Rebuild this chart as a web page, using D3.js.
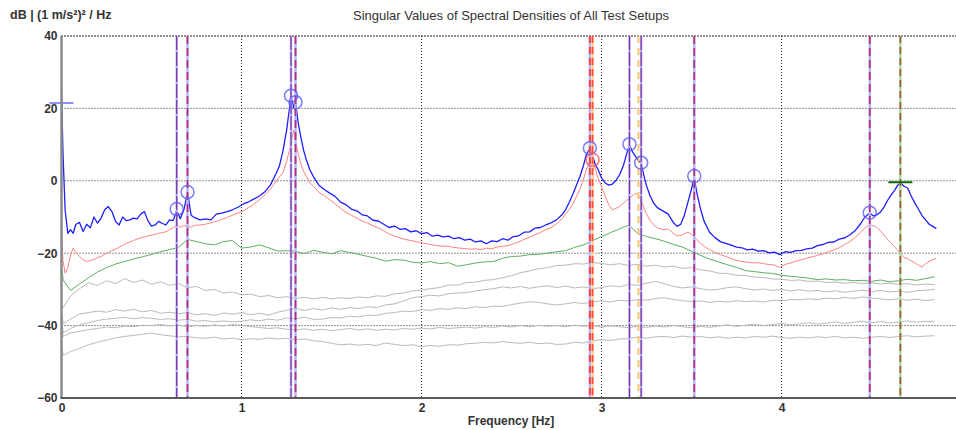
<!DOCTYPE html>
<html>
<head>
<meta charset="utf-8">
<script src="https://cdn.jsdelivr.net/npm/d3@7"></script>
<style>
  body { margin: 0; background: #fff; }
  text { font-family: "Liberation Sans", Arial, sans-serif; }
</style>
</head>
<body>
<div id="chart"></div>
<script>
// frequency grid of the two top singular values (denser near the peaks)
const freqFine = [
  0, 0.008, 0.02, 0.035, 0.05, 0.065, 0.08, 0.1, 0.12, 0.14,
  0.16, 0.18, 0.2, 0.22, 0.24, 0.26, 0.28, 0.3, 0.32, 0.34,
  0.36, 0.38, 0.4, 0.42, 0.44, 0.46, 0.48, 0.5, 0.52, 0.54,
  0.56, 0.58, 0.6, 0.62, 0.64, 0.66, 0.68, 0.7, 0.72, 0.74,
  0.77, 0.8, 0.83, 0.86, 0.89, 0.92, 0.95, 0.98, 1.01, 1.04,
  1.07, 1.1, 1.13, 1.16, 1.19, 1.21, 1.23, 1.25, 1.265, 1.275,
  1.29, 1.3, 1.315, 1.33, 1.345, 1.36, 1.38, 1.4, 1.43, 1.46,
  1.49, 1.52, 1.55, 1.58, 1.61, 1.64, 1.67, 1.7, 1.73, 1.76,
  1.79, 1.82, 1.85, 1.88, 1.91, 1.94, 1.97, 2.0, 2.03, 2.06,
  2.09, 2.12, 2.15, 2.18, 2.21, 2.24, 2.27, 2.3, 2.33, 2.36,
  2.39, 2.42, 2.45, 2.48, 2.51, 2.54, 2.57, 2.6, 2.63, 2.66,
  2.69, 2.72, 2.75, 2.78, 2.8, 2.82, 2.84, 2.86, 2.88, 2.9,
  2.915, 2.935, 2.95, 2.965, 2.98, 3.0, 3.02, 3.04, 3.06, 3.08,
  3.1, 3.12, 3.14, 3.155, 3.17, 3.19, 3.205, 3.22, 3.235, 3.25,
  3.27, 3.29, 3.31, 3.34, 3.37, 3.4, 3.42, 3.44, 3.46, 3.48,
  3.5, 3.515, 3.53, 3.55, 3.57, 3.6, 3.63, 3.66, 3.69, 3.72,
  3.75, 3.78, 3.81, 3.84, 3.87, 3.9, 3.93, 3.96, 3.99, 4.02,
  4.05, 4.08, 4.11, 4.14, 4.17, 4.2, 4.23, 4.26, 4.29, 4.32,
  4.35, 4.38, 4.41, 4.44, 4.46, 4.475, 4.49, 4.51, 4.53, 4.55,
  4.57, 4.59, 4.61, 4.63, 4.645, 4.66, 4.68, 4.7, 4.72, 4.74,
  4.76, 4.78, 4.8, 4.82, 4.84, 4.86
];

const sv1 = [
  24.7, 8, -8, -14.5, -13.5, -14.5, -12, -11.5, -14, -12,
  -13, -10, -11.7, -10.3, -8, -7.1, -8.5, -11.2, -12.2, -10,
  -11, -10.8, -10.3, -10.5, -9.2, -8.5, -11, -12.5, -12.2, -11.2,
  -11.8, -12.2, -10.8, -11, -8.2, -10.5, -8, -3.2, -9.5, -10.2,
  -10.8, -10.5, -10.8, -9.2, -8.9, -8.5, -8, -7.3, -6.4, -5.8,
  -5, -4.2, -3, -1.2, 1.8, 4, 8.2, 13.8, 19.5, 23.3,
  20.3, 21.8, 15.9, 12, 8.4, 5.8, 3, 1.1, -1.2, -2.4,
  -3.4, -4.3, -5.9, -6.6, -7.8, -8.3, -9.4, -9.7, -10.9, -11.1,
  -12, -12.9, -12.5, -13.4, -13.2, -14.1, -13.8, -14.6, -14.3, -15.3,
  -15.0, -15.5, -15.3, -16.0, -15.7, -16.4, -16.1, -16.9, -16.6, -17.4,
  -16.6, -16.8, -16.0, -16.4, -15.4, -15.2, -14.2, -14.1, -13.1, -12.9,
  -12.2, -11.6, -10.8, -9.4, -8, -6, -3.8, -1.3, 1.2, 4.3,
  7.2, 9, 7, 4.5, 3.2, 0.8, -0.6, -1.2, -0.9, 0.1,
  1.6, 4, 7.5, 9.9, 8.2, 6.6, 5.6, 4.8, 1.5, -1.4,
  -4.2, -6.2, -7.4, -8.3, -9.2, -11.6, -12.6, -12, -9.5, -5.9,
  -2.2, 0.8, -3.5, -7.8, -11.2, -14.2, -15.7, -16.8, -17.3, -17.8,
  -18.3, -18.5, -19.1, -18.9, -19.4, -19.3, -19.9, -19.7, -20.4, -19.6,
  -19.8, -19.3, -19.2, -18.8, -18.6, -17.9, -17.6, -17.0, -16.9, -16.1,
  -15.8, -14.9, -13.7, -11.8, -10.2, -9.5, -8.9, -9.7, -9.4, -8.6,
  -7.2, -5.3, -3.8, -2.5, -1.2, -0.6, -1.5, -2, -4.2, -6.1,
  -7.8, -9.6, -10.8, -12, -12.6, -13.2
];

const sv2 = [
  -13, -22, -25.5, -24, -20.5, -18.6, -19.8, -20.9, -21.8, -22.3,
  -22, -21.8, -21.2, -20.9, -20.3, -19.8, -19.3, -18.9, -18.4, -17.8,
  -17.3, -16.9, -16.5, -16.1, -15.8, -15.5, -15.2, -15, -14.8, -14.5,
  -14.3, -14.1, -13.5, -13, -12.2, -12.8, -12.4, -12.6, -12.8, -12.3,
  -12.2, -12, -11.6, -11.2, -10.7, -10.1, -9.5, -8.9, -8.3, -7.4,
  -6.4, -5.2, -3.9, -2.3, -0.3, 1, 2.2, 5.2, 8.2, 10.5,
  14, 11, 7.5, 4.5, 2.6, 1.3, -0.6, -1.5, -3.2, -4.1,
  -5.2, -6.4, -7.6, -8.7, -9.5, -10.3, -11.1, -11.7, -12.4, -13,
  -13.8, -14.7, -15.3, -15.8, -16.2, -16.5, -16.8, -17.1, -17.4, -17.7,
  -17.9, -18.1, -18.1, -18.4, -18.6, -18.7, -18.9, -18.8, -19, -18.6,
  -18.8, -18.3, -18.1, -17.9, -17.4, -16.9, -16.2, -15.6, -14.9, -14.3,
  -13.5, -12.9, -11.9, -10.5, -9.2, -8, -6.5, -4.4, -2.3, 0.5,
  3, 5.2, 5.6, 3.5, 0.8, -1.6, -4.2, -6.6, -8, -7.6,
  -7.1, -6.2, -5.4, -4.8, -4.2, -3.4, -4.2, -5.2, -7.5, -9.2,
  -11, -12.2, -13, -13.5, -13.3, -14.6, -15.2, -15.1, -14.6, -14.2,
  -14.8, -15.5, -16.3, -17.3, -18.1, -19, -19.8, -20.4, -20.9, -21.5,
  -22, -22.3, -22.5, -22.7, -22.6, -22.9, -23.1, -23.3, -23.9, -23.1,
  -22.7, -22.2, -21.8, -21.4, -21, -20.6, -20.2, -19.6, -19.1, -18.5,
  -17.6, -16.8, -15.6, -14.2, -13.2, -12.6, -12.2, -12.4, -12.9, -13.9,
  -15, -16.2, -17.3, -18.4, -19.1, -20.1, -21.2, -21.5, -22.1, -22.6,
  -23.3, -23.8, -22.9, -22.3, -21.8, -21.4
];

// frequency grid of the lower singular values
const freqCoarse = [
  0, 0.01, 0.05, 0.1, 0.15, 0.2, 0.25, 0.3, 0.35, 0.4,
  0.45, 0.5, 0.55, 0.6, 0.65, 0.7, 0.75, 0.8, 0.85, 0.9,
  0.95, 1.0, 1.05, 1.1, 1.15, 1.2, 1.25, 1.3, 1.35, 1.4,
  1.45, 1.5, 1.55, 1.6, 1.65, 1.7, 1.75, 1.8, 1.85, 1.9,
  1.95, 2.0, 2.05, 2.1, 2.15, 2.2, 2.25, 2.3, 2.35, 2.4,
  2.45, 2.5, 2.55, 2.6, 2.65, 2.7, 2.75, 2.8, 2.85, 2.9,
  2.95, 3.0, 3.05, 3.1, 3.15, 3.2, 3.25, 3.3, 3.35, 3.4,
  3.45, 3.5, 3.55, 3.6, 3.65, 3.7, 3.75, 3.8, 3.85, 3.9,
  3.95, 4.0, 4.05, 4.1, 4.15, 4.2, 4.25, 4.3, 4.35, 4.4,
  4.45, 4.5, 4.55, 4.6, 4.65, 4.7, 4.75, 4.8, 4.85
];

const sv3 = [
  -24, -27.5, -30.3, -28.5, -26.8, -25.2, -24, -23, -22.3, -21.6,
  -21, -20.3, -19.6, -19, -18.4, -16.2, -16.8, -17.4, -17.7, -16.8,
  -16.5, -18.6, -18.3, -17.7, -18.5, -19.4, -19.3, -19.5, -20.1, -19.2,
  -19.7, -20.2, -19.3, -19.8, -20.3, -20.9, -21.4, -22.2, -21.8, -21.9,
  -22.5, -22.7, -22.3, -22.9, -22.6, -23.6, -23.2, -22.7, -22.4, -22.3,
  -21.4, -20.9, -20.8, -20.4, -20.3, -20.0, -19.6, -19.3, -18.4, -17.7,
  -16.5, -15.4, -14.3, -13.3, -12.2, -14.5, -15.4, -16.0, -16.7, -17.6,
  -18.3, -19.5, -20.6, -21.6, -22.4, -23.2, -23.9, -24.8, -25.1, -25.4,
  -25.6, -26.1, -26.4, -26.6, -26.9, -27.3, -27.1, -27.4, -27.3, -27.6,
  -27.5, -27.8, -27.4, -27.9, -27.6, -27.2, -27.5, -27.0, -26.5
];

const sv4 = [
  -34, -35, -31.8, -29.8, -28.2, -28.9, -27.6, -28.4, -27.0, -28.1,
  -27.4, -28.6, -27.9, -28.9, -28.4, -29.5, -29.2, -30.3, -30.0, -31.0,
  -30.7, -31.5, -31.3, -32.0, -31.7, -32.3, -32.0, -32.5, -32.2, -32.6,
  -32.2, -32.6, -32.3, -32.5, -32.1, -32.3, -31.8, -31.9, -31.2, -31.0,
  -30.4, -30.2, -29.8, -29.5, -28.8, -28.8, -28.1, -28.0, -27.5, -27.3,
  -26.8, -26.2, -25.4, -24.9, -24.3, -24.0, -23.4, -23.3, -22.9, -23.0,
  -22.6, -22.8, -23.2, -22.9, -23.4, -23.1, -23.6, -23.3, -23.8, -23.6,
  -24.2, -24.0, -24.6, -24.9, -25.5, -25.6, -26.1, -26.2, -26.6, -26.7,
  -27.1, -27.2, -27.5, -27.4, -27.8, -27.7, -28.1, -28.0, -28.3, -28.1,
  -28.4, -28.2, -28.5, -28.3, -28.6, -28.4, -28.8, -28.5, -28.7
];

const sv5 = [
  -36, -39.5, -38.2, -36.8, -36.4, -36.0, -36.3, -35.6, -36.0, -35.5,
  -36.2, -35.8, -36.6, -36.3, -36.7, -36.4, -37.0, -36.7, -37.2, -36.5,
  -36.9, -36.4, -37.0, -36.6, -37.1, -36.3, -35.8, -35.2, -35.8, -35.3,
  -35.7, -35.1, -35.5, -35.0, -35.3, -34.8, -35.0, -34.3, -34.0, -33.2,
  -32.3, -32.0, -31.6, -31.8, -31.2, -31.0, -30.9, -30.4, -30.1, -29.8,
  -29.3, -29.6, -29.2, -29.7, -29.3, -29.0, -29.5, -29.1, -29.6, -29.3,
  -29.8, -29.5, -29.0, -29.3, -28.6, -28.9, -28.3, -27.8, -28.4, -29.2,
  -29.6, -29.3, -29.8, -30.2, -30.0, -29.5, -29.3, -29.8, -30.2, -29.9,
  -30.3, -30.0, -30.4, -30.1, -30.5, -30.3, -30.7, -30.4, -30.8, -30.5,
  -30.2, -30.6, -30.3, -30.7, -30.5, -30.8, -30.4, -30.2, -30.0
];

const sv6 = [
  -38, -42, -40.8, -39.8, -39.2, -38.6, -38.2, -38.0, -37.7, -38.1,
  -37.8, -38.0, -38.3, -38.1, -38.5, -38.3, -38.8, -38.6, -39.0, -38.7,
  -39.0, -38.8, -38.4, -38.7, -38.2, -38.5, -37.9, -38.1, -37.7, -38.3,
  -38.2, -37.8, -37.9, -37.4, -37.6, -37.1, -37.2, -36.6, -36.4, -36.0,
  -36.1, -35.6, -35.8, -35.3, -35.5, -35.1, -35.3, -34.8, -35.0, -34.6,
  -34.7, -34.2, -33.8, -33.4, -33.6, -34.0, -34.3, -34.0, -33.6, -33.9,
  -33.4, -33.2, -33.5, -33.0, -33.2, -32.8, -33.0, -32.5, -32.3, -32.8,
  -33.1, -33.4, -33.2, -33.6, -33.3, -33.5, -33.1, -33.4, -33.2, -33.5,
  -33.0, -33.2, -32.8, -32.9, -32.6, -32.8, -32.4, -32.6, -32.2, -32.5,
  -32.1, -32.4, -32.6, -32.9, -32.6, -33.0, -32.7, -33.1, -32.8
];

const sv7 = [
  -40, -43, -42.0, -41.6, -41.1, -40.8, -40.4, -40.6, -40.1, -40.3,
  -39.9, -40.0, -39.7, -40.1, -39.9, -40.3, -40.0, -40.2, -39.8, -40.1,
  -39.7, -39.9, -40.3, -40.5, -40.8, -40.6, -41.0, -41.2, -40.9, -41.3,
  -41.0, -41.4, -41.1, -40.8, -41.2, -40.9, -41.3, -41.0, -41.2, -40.8,
  -41.0, -40.7, -40.9, -40.5, -40.8, -40.6, -40.4, -40.7, -40.3, -40.5,
  -40.1, -40.4, -40.0, -40.3, -39.9, -40.2, -40.0, -40.3, -39.9, -40.2,
  -40.0, -40.4, -40.1, -40.3, -40.6, -40.2, -40.5, -40.1, -40.4, -40.0,
  -40.3, -40.6, -40.2, -40.5, -40.1, -39.8, -40.2, -39.9, -39.6, -40.0,
  -39.7, -39.4, -39.8, -39.5, -39.2, -39.6, -39.3, -39.0, -39.4, -39.1,
  -38.8, -39.2, -38.9, -39.3, -39.0, -38.7, -39.1, -38.8, -39.0
];

const sv8 = [
  -46, -48.2, -47.2, -46.3, -45.3, -44.6, -44.0, -43.4, -43.0, -42.7,
  -42.4, -42.1, -42.5, -42.8, -43.1, -43.0, -43.4, -43.5, -43.2, -43.7,
  -43.5, -43.9, -43.6, -43.8, -43.4, -43.7, -43.5, -43.9, -43.7, -44.2,
  -44.4, -44.9, -45.3, -45.1, -45.4, -45.2, -45.5, -44.8, -45.2, -45.5,
  -45.3, -45.8, -45.5, -45.7, -45.3, -45.4, -45.0, -44.9, -44.6, -44.8,
  -44.4, -44.7, -44.9, -44.6, -45.0, -44.8, -45.2, -45.1, -44.6, -44.8,
  -44.2, -43.9, -44.1, -43.7, -43.6, -43.2, -43.5, -43.1, -43.0, -43.3,
  -42.9, -43.2, -43.0, -43.4, -43.1, -43.5, -43.2, -43.4, -43.0, -43.2,
  -42.9, -43.3, -43.5, -43.2, -43.4, -43.1, -43.3, -43.0, -43.4, -43.2,
  -43.5, -43.2, -43.0, -43.3, -43.0, -42.8, -43.1, -42.9, -42.8
];

// picked modes (vertical markers) and which estimator they belong to
const markerFreq = [0.64, 0.70, 1.275, 1.30, 2.935, 2.95, 3.155, 3.205, 3.22, 3.515, 4.49, 4.66];
const markerKind = ["p", "m", "p", "m", "r", "ro", "p", "o", "p", "m", "m", "g"];

// peak picks drawn as circles
const peakFreq = [0.64, 0.70, 1.275, 1.30, 2.935, 3.155, 3.22, 3.515, 4.49, 2.95];
const peakDb   = [-7.8, -3.1, 23.5, 21.7, 9.0, 10.1, 5.0, 1.3, -8.8, 5.8];
const peakSet  = ["sv1", "sv1", "sv1", "sv1", "sv1", "sv1", "sv1", "sv1", "sv1", "sv2"];

const xTicks = [0, 1, 2, 3, 4];
const yTicks = [-60, -40, -20, 0, 20, 40];

const W = 956, H = 430;
const x = d3.scaleLinear().domain([0, 4.969]).range([61.5, 956]);
const y = d3.scaleLinear().domain([-60, 40]).range([398, 36]);

const svg = d3.select("#chart").append("svg")
  .attr("width", W).attr("height", H);

svg.append("defs").append("clipPath").attr("id", "plot")
  .append("rect").attr("x", 61.5).attr("y", 36).attr("width", W - 61.5).attr("height", 362);

// grid
svg.append("g").selectAll("line")
  .data(yTicks.filter(d => d > -60))
  .enter().append("line")
  .attr("x1", x(0)).attr("x2", W)
  .attr("y1", d => y(d)).attr("y2", d => y(d))
  .attr("stroke", "#222")
  .attr("stroke-width", d => d === 40 ? 2 : 1)
  .attr("stroke-dasharray", "1,2");

svg.append("g").selectAll("line")
  .data(xTicks.filter(d => d > 0))
  .enter().append("line")
  .attr("x1", d => x(d)).attr("x2", d => x(d))
  .attr("y1", y(40)).attr("y2", y(-60))
  .attr("stroke", "#222")
  .attr("stroke-dasharray", "1,2");

// curves
const plot = svg.append("g").attr("clip-path", "url(#plot)");

function drawCurve(freq, vals, color, width) {
  const line = d3.line()
    .x((d, i) => x(freq[i]))
    .y(d => y(d));
  plot.append("path")
    .attr("d", line(vals))
    .attr("fill", "none")
    .attr("stroke", color)
    .attr("stroke-width", width)
    .attr("stroke-linejoin", "round");
}

[sv8, sv7, sv6, sv5, sv4].forEach(s => drawCurve(freqCoarse, s, "#b9b9b9", 1));
drawCurve(freqCoarse, sv3, "#5fae5f", 1);
drawCurve(freqFine, sv2, "#ff8080", 1);
drawCurve(freqFine, sv1, "#1e1eff", 1.3);

// vertical markers: light base stroke + dashed overlay
const markerStyle = {
  p:  { base: "#b4b4ff", top: "#7a2a90", dash: "14,2", w: 1.1 },
  m:  { base: "#b4b4ff", top: "#b8306e", dash: "8,4", w: 1.7 },
  r:  { base: "#b4b4ff", top: "#ff3a3a", dash: "7,4", w: 1.8 },
  ro: { base: "#ffd090", top: "#ff4a4a", dash: "7,4", w: 1.8 },
  o:  { base: "none", top: "#ffc060", dash: "7,5", w: 1.8 },
  g:  { base: "#a8d8a8", top: "#a8582a", dash: "7,4", w: 1.6 }
};

const mk = svg.append("g").selectAll("g")
  .data(markerFreq.map((f, i) => ({ f, k: markerKind[i] })))
  .enter().append("g");

mk.append("line")
  .attr("x1", d => x(d.f)).attr("x2", d => x(d.f))
  .attr("y1", y(40)).attr("y2", y(-60))
  .attr("stroke", d => markerStyle[d.k].base)
  .attr("stroke-width", 2.5);

mk.append("line")
  .attr("x1", d => x(d.f)).attr("x2", d => x(d.f))
  .attr("y1", y(40)).attr("y2", y(-60))
  .attr("stroke", d => markerStyle[d.k].top)
  .attr("stroke-width", d => markerStyle[d.k].w)
  .attr("stroke-dasharray", d => markerStyle[d.k].dash);

// peak circles
svg.append("g").selectAll("circle")
  .data(peakFreq.map((f, i) => ({ f, v: peakDb[i], s: peakSet[i] })))
  .enter().append("circle")
  .attr("cx", d => x(d.f)).attr("cy", d => y(d.v))
  .attr("r", 6.5)
  .attr("fill", "none")
  .attr("stroke", d => d.s === "sv1" ? "#5a5aff" : "#ff5050")
  .attr("stroke-opacity", 0.8)
  .attr("stroke-width", 1.5);

// level marks
svg.append("line")
  .attr("x1", x(4.66) - 12).attr("x2", x(4.66) + 12)
  .attr("y1", y(-0.4)).attr("y2", y(-0.4))
  .attr("stroke", "#0a6a0a").attr("stroke-width", 2);

svg.append("line")
  .attr("x1", x(0) - 12).attr("x2", x(0) + 12)
  .attr("y1", y(21.5)).attr("y2", y(21.5))
  .attr("stroke", "#8c8cff").attr("stroke-width", 2);

// axes
svg.append("line")
  .attr("x1", x(0)).attr("x2", x(0))
  .attr("y1", y(40)).attr("y2", y(-60))
  .attr("stroke", "#8a8a8a").attr("stroke-width", 2.5);

svg.append("line")
  .attr("x1", x(0) - 1).attr("x2", W)
  .attr("y1", y(-60)).attr("y2", y(-60))
  .attr("stroke", "#5a5a5a").attr("stroke-width", 2);

const yAxis = svg.append("g")
  .attr("transform", `translate(${x(0) - 1},0)`)
  .call(d3.axisLeft(y).tickValues(yTicks).tickSize(0).tickPadding(3));
const xAxis = svg.append("g")
  .attr("transform", `translate(0,${y(-60) + 2})`)
  .call(d3.axisBottom(x).tickValues(xTicks).tickSize(0).tickPadding(3).tickFormat(d3.format("d")));

[yAxis, xAxis].forEach(a => {
  a.select(".domain").remove();
  a.selectAll("text")
    .style("font-family", "'Liberation Sans', Arial, sans-serif")
    .style("font-size", "12px")
    .style("font-weight", "bold")
    .attr("fill", "#333");
});

// labels
svg.append("text")
  .attr("x", 10).attr("y", 19)
  .style("font-size", "12.5px").style("font-weight", "bold")
  .attr("fill", "#333")
  .text("dB | (1 m/s²)² / Hz");

svg.append("text")
  .attr("x", 511).attr("y", 20)
  .attr("text-anchor", "middle")
  .style("font-size", "13px")
  .attr("fill", "#333")
  .text("Singular Values of Spectral Densities of All Test Setups");

svg.append("text")
  .attr("x", 511).attr("y", 425)
  .attr("text-anchor", "middle")
  .style("font-size", "12px").style("font-weight", "bold")
  .attr("fill", "#333")
  .text("Frequency [Hz]");
</script>
</body>
</html>
